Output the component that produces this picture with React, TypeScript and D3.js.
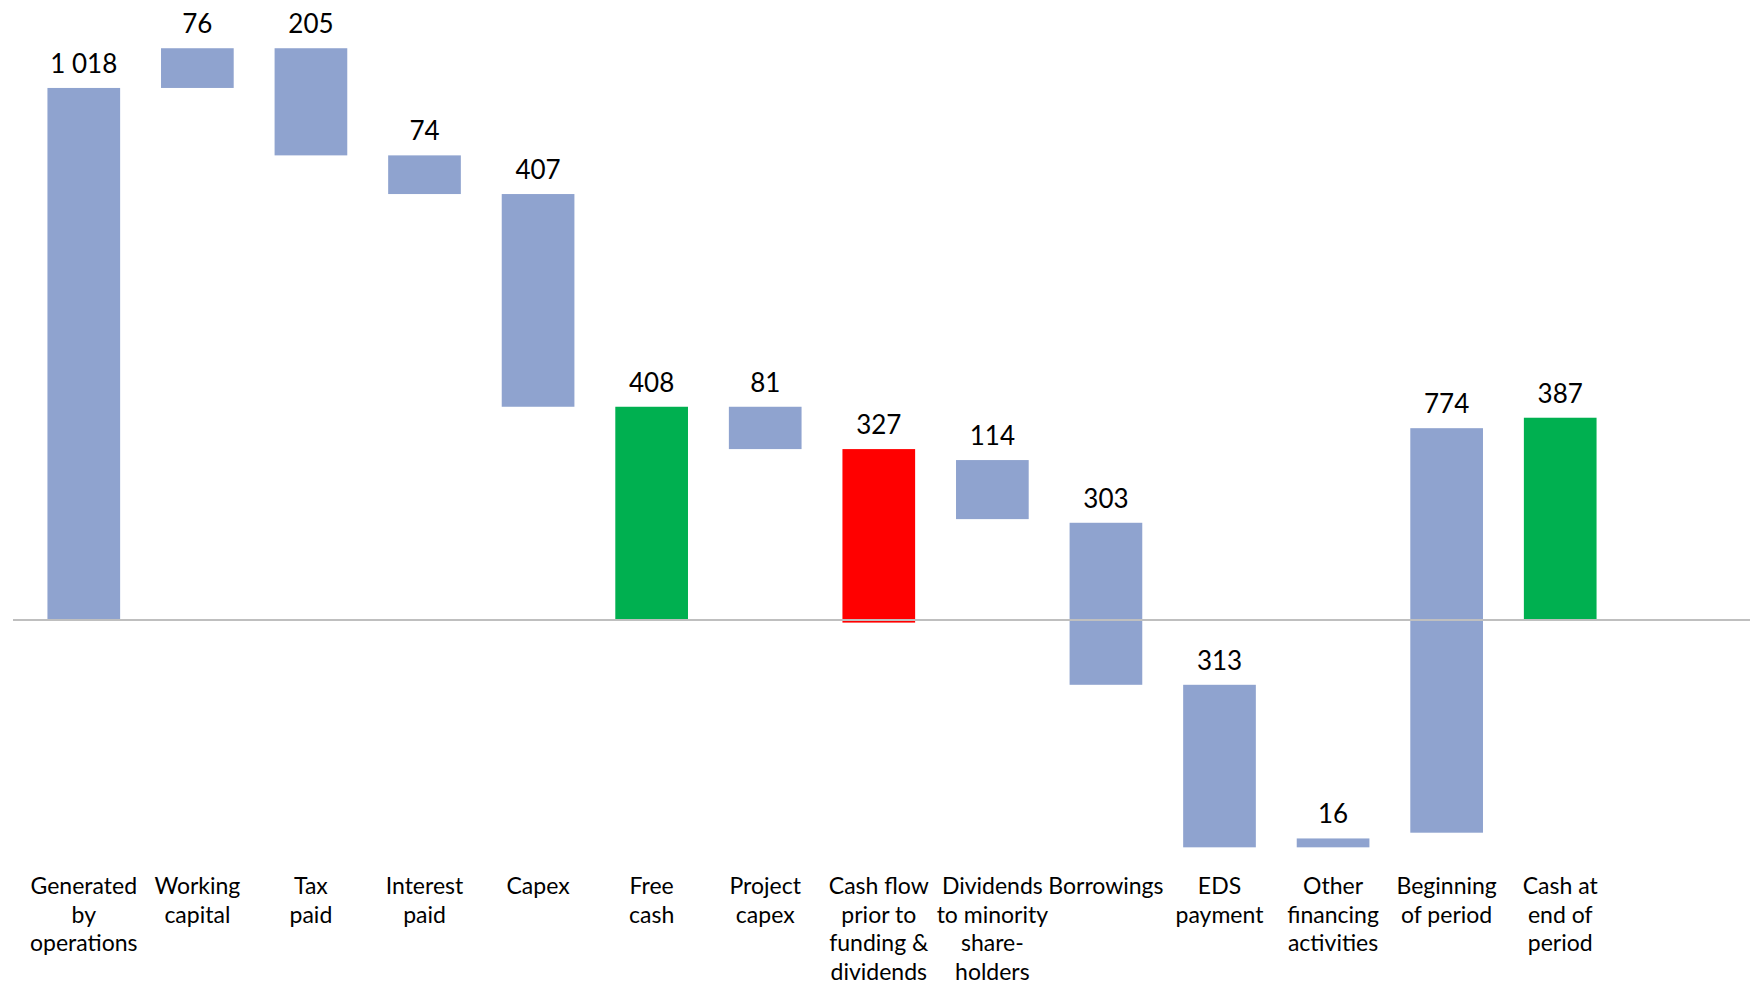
import React from "react";
import * as d3 from "d3";

const categories: string[][] = [
  ["Generated", "by", "operations"],
  ["Working", "capital"],
  ["Tax", "paid"],
  ["Interest", "paid"],
  ["Capex"],
  ["Free", "cash"],
  ["Project", "capex"],
  ["Cash flow", "prior to", "funding &", "dividends"],
  ["Dividends", "to minority", "share-", "holders"],
  ["Borrowings"],
  ["EDS", "payment"],
  ["Other", "financing", "activities"],
  ["Beginning", "of period"],
  ["Cash at", "end of", "period"],
];
const valueLabels = ["1 018", "76", "205", "74", "407", "408", "81", "327", "114", "303", "313", "16", "774", "387"];
const barLow = [0, 1018, 889, 815, 408, 0, 327, -5, 193, -124, -435, -435, -407, 0];
const barHigh = [1018, 1094, 1094, 889, 815, 408, 408, 327, 306, 186, -124, -418, 367, 387];
const barKind = ["step", "step", "step", "step", "step", "total", "step", "sub", "step", "step", "step", "step", "step", "total"];

const W = 1752;
const H = 987;
const COLORS: Record<string, string> = { step: "#8FA3CF", total: "#00B050", sub: "#FF0000" };
const FONT = "Lato, 'Open Sans', sans-serif";

export default function App() {
  const keys = categories.map((_, i) => String(i));
  const x = d3.scaleBand<string>().domain(keys).range([27, 1617]).paddingInner(0.36).paddingOuter(0.18);
  const y = d3.scaleLinear().domain([-500, 1100]).range([881.3, 45.1]);
  const bw = x.bandwidth();

  return (
    <svg width={W} height={H} style={{ position: "absolute", left: 0, top: 0, background: "#fff" }}>
      <rect x={0} y={0} width={W} height={H} fill="#fff" />
      {keys.map((k, i) => (
        <rect
          key={"b" + k}
          x={x(k)!}
          y={y(barHigh[i])}
          width={bw}
          height={y(barLow[i]) - y(barHigh[i])}
          fill={COLORS[barKind[i]]}
        />
      ))}
      <line x1={13} x2={1750} y1={y(0)} y2={y(0)} stroke="#BFBFBF" strokeWidth={2} />
      {keys.map((k, i) => (
        <text
          key={"v" + k}
          x={x(k)! + bw / 2}
          y={y(barHigh[i]) - 15}
          textAnchor="middle"
          fontFamily={FONT}
          fontSize={26}
          fill="#000"
        >
          {valueLabels[i]}
        </text>
      ))}
      {keys.map((k, i) => (
        <text
          key={"c" + k}
          x={x(k)! + bw / 2}
          y={894}
          textAnchor="middle"
          fontFamily={FONT}
          fontSize={23}
          fill="#000"
        >
          {categories[i].map((line, j) => (
            <tspan key={j} x={x(k)! + bw / 2} dy={j === 0 ? 0 : 28.6}>
              {line}
            </tspan>
          ))}
        </text>
      ))}
    </svg>
  );
}
